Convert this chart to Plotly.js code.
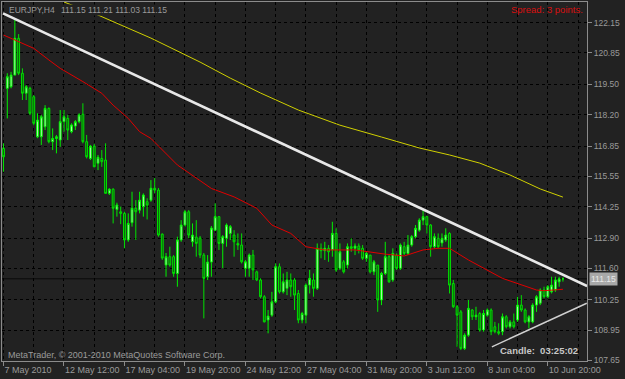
<!DOCTYPE html>
<html><head><meta charset="utf-8">
<script src="https://cdn.plot.ly/plotly-3.0.1.min.js"></script>
<style>html,body{margin:0;padding:0;background:#222222;}#chart{width:625px;height:379px;}</style>
</head><body><div id="chart"></div>
<script>
// EURJPY H4 candles (index 0 = 7 May 2010 20:00)
const openP = [116.75,119.33,119.40,119.90,121.48,119.98,119.12,119.33,118.97,117.25,
117.25,117.68,118.47,117.04,117.18,117.11,117.90,118.04,117.47,117.71,
117.90,118.22,117.04,116.32,116.85,116.11,116.32,116.25,114.82,115.00,
114.13,114.03,113.96,112.82,113.56,114.18,114.10,114.25,114.46,114.53,
115.04,114.96,113.07,111.74,112.10,112.10,111.38,112.82,113.46,114.03,
112.74,112.94,112.90,112.17,111.24,111.87,113.24,113.82,112.67,112.89,
113.10,113.03,112.67,112.60,111.60,111.60,112.17,111.45,111.10,110.38,
109.38,109.59,110.16,111.67,110.59,110.74,111.10,111.10,110.52,109.38,
109.59,110.88,111.10,110.74,112.46,112.36,112.46,112.39,113.10,111.60,
111.88,111.74,112.53,112.46,112.56,112.46,112.03,112.17,111.45,111.74,
110.24,111.38,112.10,111.10,112.17,111.60,112.53,112.24,112.60,112.96,
113.24,113.67,113.82,113.46,112.53,112.89,112.69,112.82,113.10,110.95,
109.95,109.73,108.16,108.73,109.81,109.52,109.66,108.95,109.59,109.81,
109.09,108.88,108.88,109.52,109.09,109.30,109.38,110.02,109.81,109.30,
109.30,110.02,110.10,110.67,110.38,110.59,110.67,111.02,111.15];
const highP = [116.97,119.98,120.04,122.27,121.66,120.19,119.47,119.40,119.04,118.26,
118.19,118.61,118.51,117.61,117.33,118.40,118.40,118.19,117.83,117.97,
118.26,118.69,117.33,116.90,116.94,116.47,116.68,116.97,115.04,115.04,
114.42,114.25,114.03,113.96,114.89,114.53,114.89,114.82,114.61,115.39,
115.48,115.05,113.10,112.26,112.53,112.17,112.96,113.67,114.10,114.10,
113.53,113.67,112.99,112.26,112.17,113.42,114.39,113.82,113.03,113.53,
113.46,113.24,113.10,113.10,111.96,112.24,112.39,111.50,111.17,110.45,
109.81,110.59,111.81,111.81,111.38,111.45,111.38,111.18,110.67,109.73,
110.95,111.53,111.38,112.67,112.67,112.74,112.60,113.60,113.32,112.67,
111.96,112.67,112.89,112.67,112.67,112.60,112.31,112.17,111.96,111.74,
111.45,112.74,112.17,112.46,112.24,112.67,112.74,113.03,113.03,113.46,
113.75,114.10,113.85,113.50,113.10,113.10,113.10,113.32,113.15,111.10,
110.02,109.81,108.81,110.24,109.85,109.95,109.73,109.81,109.88,109.88,
109.30,109.24,109.66,109.59,109.38,109.66,110.38,110.45,109.88,109.59,
110.10,110.45,110.74,110.81,110.88,111.24,111.24,111.24,111.21];
const lowP = [115.75,118.04,119.33,119.90,119.90,118.83,118.83,118.18,117.75,117.19,
116.90,117.54,116.97,116.68,116.54,116.82,117.47,117.11,117.40,117.54,
117.83,116.97,116.32,116.25,115.96,115.82,115.96,114.82,114.75,113.53,
113.82,113.50,112.46,112.74,113.39,112.82,113.96,113.82,113.70,114.46,
114.83,112.96,111.96,111.24,111.67,111.24,110.81,112.74,113.39,112.89,
112.53,112.10,112.04,109.45,111.10,111.24,113.20,112.39,111.61,112.53,
112.82,112.10,112.39,111.81,111.24,111.24,111.10,111.05,110.31,109.28,
108.81,109.52,110.10,110.52,110.52,110.45,110.38,109.81,109.24,109.24,
109.24,110.52,110.38,110.67,112.03,111.96,111.88,112.10,111.45,111.53,
111.38,111.60,112.31,112.17,112.24,111.96,111.88,111.38,111.31,109.73,
110.02,111.31,110.98,111.02,111.53,111.53,112.17,112.17,112.53,112.89,
113.17,113.46,113.10,112.10,112.46,112.46,112.53,112.74,110.52,109.90,
108.23,108.09,108.09,108.66,109.38,109.38,108.88,108.88,109.52,108.73,
108.81,108.73,108.73,109.02,109.02,109.02,109.30,109.73,109.24,109.02,
109.24,109.73,110.02,110.31,110.31,110.52,110.59,110.81,111.03];
const closeP = [116.39,119.83,119.90,121.48,119.98,119.12,119.40,118.26,117.83,117.97,
118.11,118.47,117.04,117.18,117.25,117.90,118.11,117.54,117.76,117.90,
118.19,117.04,116.39,116.85,115.96,116.37,116.18,114.82,115.00,114.18,
114.32,113.96,112.82,113.53,114.18,114.03,114.53,114.75,114.32,115.04,
114.96,113.03,112.04,112.10,111.74,111.38,112.82,113.46,114.03,113.03,
113.03,112.67,112.17,111.17,111.87,113.33,113.82,112.67,112.96,113.46,
113.39,112.74,112.60,111.88,111.88,112.17,111.53,111.10,110.38,109.30,
109.55,110.16,111.67,110.59,111.02,111.10,110.81,110.45,109.38,109.66,
110.88,111.17,110.74,112.46,112.36,112.46,112.31,113.10,111.53,112.31,
111.45,112.53,112.46,112.56,112.39,112.03,112.24,111.45,111.88,110.24,
111.38,112.10,111.02,112.24,111.60,112.60,112.24,112.60,112.96,113.32,
113.67,113.82,113.46,112.53,112.96,112.53,112.89,113.03,110.88,109.95,
109.59,108.16,108.73,109.88,109.52,109.59,108.95,109.66,109.81,108.88,
108.88,108.81,109.52,109.09,109.30,109.09,110.02,109.81,109.30,109.52,
110.02,110.38,110.67,110.38,110.81,110.88,111.10,111.15,111.15];

// Moving averages (bar index, price)
const redMaBars   = [0,3,8,12,15,21,26,29,33,36,39,46,55,61,67,71,76,80,85,93,101,106,111,115,118,123,132,141,143,148];
const redMaValues = [121.62,121.41,121.05,120.55,120.19,119.62,119.12,118.61,118.04,117.47,117.18,116.04,115.03,114.67,114.18,113.46,113.10,112.53,112.39,112.39,112.21,112.13,112.39,112.46,112.46,111.96,111.17,110.67,110.64,110.70];
const yellowMaBars   = [16,25,39,52,60,68,78,89,100,110,118,126,134,142,148];
const yellowMaValues = [123.04,122.48,121.49,120.46,119.77,119.13,118.40,117.75,117.24,116.77,116.47,116.12,115.61,115.01,114.66];

// Trend lines (bar index, price)
const upperTrendBars = [-0.13,154.4];
const upperTrendValues = [122.55,110.84];
const lowerTrendBars = [129.2,154.3];
const lowerTrendValues = [108.23,110.10];

// Axis labels
const xTickBars = [0,16,32,48,64,80,96,112,128,144];
const xTickLabels = ["7 May 2010","12 May 12:00","17 May 04:00","19 May 20:00","24 May 12:00","27 May 04:00","31 May 20:00","3 Jun 12:00","8 Jun 04:00","10 Jun 20:00"];
const xGridBars = [8,24,40,56,72,88,104,120,136,152];
const yTickValues = [122.15,120.85,119.50,118.20,116.85,115.55,114.25,112.90,111.60,110.25,108.95,107.65];
const bidPrice = 111.15;

const bars = openP.map((_, i) => i);
const BG = '#222222';
const GRID = '#000000';
const FONT = 'Liberation Sans, Arial, sans-serif';

const traces = [
  {type:'candlestick', x:bars, open:openP, high:highP, low:lowP, close:closeP,
   increasing:{line:{color:'#00f000', width:1}, fillcolor:'#c0f8c0'},
   decreasing:{line:{color:'#00e000', width:1}, fillcolor:'#0a5a0a'},
   whiskerwidth:0, hoverinfo:'none', showlegend:false},
  {type:'scatter', mode:'lines', x:redMaBars, y:redMaValues, line:{color:'#e00000', width:1}, hoverinfo:'none', showlegend:false},
  {type:'scatter', mode:'lines', x:yellowMaBars, y:yellowMaValues, line:{color:'#d0d000', width:1}, hoverinfo:'none', showlegend:false},
  {type:'scatter', mode:'lines', x:upperTrendBars, y:upperTrendValues, line:{color:'#e8e8e8', width:2.6}, hoverinfo:'none', showlegend:false},
  {type:'scatter', mode:'lines', x:lowerTrendBars, y:lowerTrendValues, line:{color:'#d0d0d0', width:1.4}, hoverinfo:'none', showlegend:false}
];

const layout = {
  width:625, height:379,
  margin:{l:2, r:38, t:2, b:18, pad:0},
  paper_bgcolor:BG, plot_bgcolor:BG,
  font:{family:FONT, size:9, color:'#9a9a9a'},
  showlegend:false,
  boxgap:0.3,
  xaxis:{
    range:[-0.4,154.37], fixedrange:true, rangeslider:{visible:false},
    tickmode:'array', tickvals:xTickBars, ticktext:xTickLabels,
    ticks:'outside', ticklen:4, tickcolor:'#8a8a8a', tickwidth:1,
    tickangle:0, ticklabelposition:'outside right',
    tickfont:{family:FONT, size:9, color:'#9a9a9a'},
    showgrid:true, gridcolor:GRID, griddash:'3px,3px', gridwidth:1,
    minor:{tickmode:'array', tickvals:xGridBars, showgrid:true, gridcolor:GRID, griddash:'3px,3px', ticks:''},
    showline:true, mirror:true, linecolor:'#8c8c8c', linewidth:1, zeroline:false
  },
  yaxis:{
    range:[107.62,123.04], fixedrange:true, side:'right',
    tickmode:'array', tickvals:yTickValues, ticktext:yTickValues.map(v=>v.toFixed(2)),
    ticks:'outside', ticklen:4, tickcolor:'#8a8a8a', tickwidth:1,
    tickfont:{family:FONT, size:8.5, color:'#9a9a9a'},
    showgrid:true, gridcolor:GRID, griddash:'3px,3px', gridwidth:1,
    showline:true, mirror:true, linecolor:'#8c8c8c', linewidth:1, zeroline:false
  },
  shapes:[
    {type:'line', xref:'paper', x0:0, x1:1, yref:'y', y0:bidPrice, y1:bidPrice, line:{color:'#0a0a0a', width:1}, layer:'below'}
  ],
  annotations:[
    {xref:'paper', yref:'paper', x:0.0085, y:0.978, xanchor:'left', yanchor:'middle', showarrow:false,
     text:'EURJPY,H4', font:{family:FONT, size:8.5, color:'#9a9a9a'}},
    {xref:'paper', yref:'paper', x:0.099, y:0.978, xanchor:'left', yanchor:'middle', showarrow:false,
     text:'111.15 111.21 111.03 111.15', bgcolor:BG, borderpad:0, font:{family:FONT, size:8.5, color:'#9a9a9a'}},
    {xref:'paper', yref:'paper', x:0.997, y:0.978, xanchor:'right', yanchor:'middle', showarrow:false,
     text:'Spread: 3 points.', font:{family:FONT, size:9.5, color:'#d81010'}},
    {xref:'paper', yref:'paper', x:0.007, y:0.017, xanchor:'left', yanchor:'middle', showarrow:false,
     text:'MetaTrader, © 2001-2010 MetaQuotes Software Corp.', font:{family:FONT, size:9, color:'#9a9a9a'}},
    {xref:'paper', yref:'paper', x:0.988, y:0.028, xanchor:'right', yanchor:'middle', showarrow:false,
     text:'<b>Candle:  03:25:02</b>', font:{family:FONT, size:9.5, color:'#c8c8c8'}},
    {xref:'paper', yref:'y', x:1, y:bidPrice, xanchor:'left', yanchor:'middle', xshift:2, showarrow:false,
     text:'111.15', bgcolor:'#a8a8a8', borderpad:1, font:{family:FONT, size:8.5, color:'#e8e8e8'}}
  ]
};

Plotly.newPlot('chart', traces, layout, {displayModeBar:false, staticPlot:true});
</script></body></html>
